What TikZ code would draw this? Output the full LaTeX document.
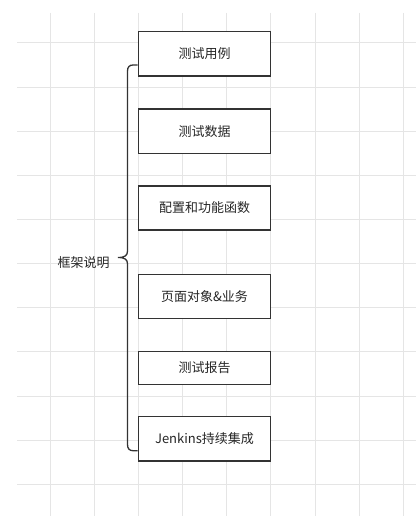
\documentclass[tikz,border=0pt]{standalone}
\usepackage{fontspec}
\setmainfont{Noto Sans CJK SC}
\begin{document}
\begin{tikzpicture}[x=1pt,y=-1pt,
  gridline/.style={draw=black!10, line width=0.8pt},
  box/.style={draw=black!80, line width=1.3pt, fill=white, minimum width=132.4pt, inner sep=0pt, font=\fontsize{13}{15}\selectfont, text=black!85},
  bracel/.style={draw=black!80, line width=1.3pt},
  lbl/.style={font=\fontsize{13}{15}\selectfont, text=black!85}]
\useasboundingbox (0,0) rectangle (416,516);
\fill[white] (0,0) rectangle (416,516);
\foreach \i in {0,...,8} \draw[gridline] ({50+44.15*\i},13) -- ({50+44.15*\i},516);
\foreach \j in {0,...,10} \draw[gridline] (17,{42.8+44.15*\j}) -- (416,{42.8+44.15*\j});
\node[box, minimum height=44.3pt] (b1) at (204.5,53.85) {测试用例};
\node[box, minimum height=44.3pt] (b2) at (204.5,131.2) {测试数据};
\node[box, minimum height=44pt] (b3) at (204.5,208) {配置和功能函数};
\node[box, minimum height=44pt] (b4) at (204.5,296.2) {页面对象\&业务};
\node[box, minimum height=33pt] (b5) at (204.5,367.7) {测试报告};
\node[box, minimum height=44.3pt] (b6) at (204.5,438.8) {Jenkins持续集成};
\node[lbl] (lab) at (83.5,263) {框架说明};
\coordinate (bt) at (b1.west |- 0,65);
\coordinate (bb) at (b6.west |- 0,450.7);
\coordinate (tip) at (118,257.5);
\draw[bracel] (bt) -- (133,65) .. controls (129.5,65) and (127.5,67) .. (127.5,71) -- (127.5,251)
  .. controls (127.5,255.5) and (125,257.5) .. (tip)
  .. controls (125,257.5) and (127.5,259.5) .. (127.5,264) -- (127.5,444.5)
  .. controls (127.5,448.7) and (129.5,450.7) .. (133,450.7) -- (bb);
\end{tikzpicture}
\end{document}
